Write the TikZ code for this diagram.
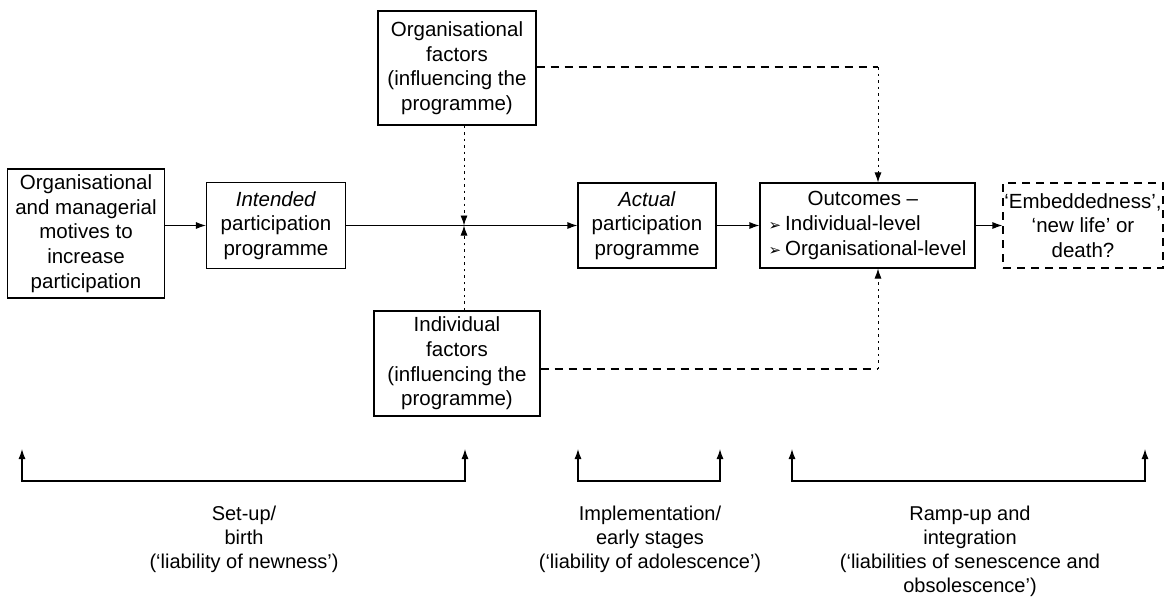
\documentclass[tikz,border=0pt]{standalone}
\usepackage{fontspec}
\setmainfont{Liberation Sans}
\newfontfamily\dingfont{DejaVu Sans}
\usetikzlibrary{arrows.meta}
\newcommand{\outbullet}{{\dingfont\fontsize{15}{15}\selectfont ➢}\hspace{4pt}}
\begin{document}
\begin{tikzpicture}[x=1pt, y=-1pt,
  box/.style={draw, line width=1.1pt, inner sep=0pt, align=center, font=\fontsize{20.5}{24.6}\selectfont},
  tip/.style={-{Latex[length=10pt,width=7pt]}},
  dots/.style={dash pattern=on 2.5pt off 4pt, line width=0.9pt},
  dashes/.style={dash pattern=on 8pt off 6pt, line width=1.1pt},
  lab/.style={align=center, font=\fontsize{20}{24}\selectfont}]
\useasboundingbox (0,0) rectangle (1166,598);
\node[box, minimum width=157, minimum height=129] (mot) at (86,233.5) {Organisational\\and managerial\\motives to\\increase\\participation};
\node[box, minimum width=139, minimum height=86] (int) at (276,225.5) {\textit{Intended}\\participation\\programme};
\node[box, minimum width=158, minimum height=114] (orgf) at (457,68) {Organisational\\factors\\(influencing the\\programme)};
\node[box, minimum width=166, minimum height=105] (indf) at (457,363.5) {Individual\\factors\\(influencing the\\programme)};
\node[box, minimum width=138, minimum height=85] (act) at (647,225.5) {\textit{Actual}\\participation\\programme};
\node[box, minimum width=215, minimum height=85, align=left] (out) at (867.5,225.5) {\hspace*{39pt}Outcomes –\\\outbullet Individual-level\\\outbullet Organisational-level};
\node[box, dashes, minimum width=160, minimum height=85] (emb) at (1083,225.5) {‘Embeddedness’,\\‘new life’ or\\death?};
\coordinate (j) at (464,225.5);
\coordinate (c0) at (878,67);
\coordinate (c1) at (878,369);
\draw[tip, line width=1.1pt](mot.east |- int) -- (int);
\draw[tip, line width=1.1pt](int) -- (act);
\draw[tip, line width=1.1pt](act) -- (out);
\draw[tip, line width=1.1pt](out) -- (emb);
\draw[dots, tip](orgf.south -| j) -- (j);
\draw[dots, tip](indf.north -| j) -- (j);
\draw[dashes](orgf.east |- c0) -- (c0);
\draw[dots, tip](c0) -- (out.north -| c0);
\draw[dashes](indf.east |- c1) -- (c1);
\draw[dots, tip](c1) -- (out.south -| c1);
\foreach \a/\b in {22/465, 578/720, 792/1145}
  \draw[{Latex[length=10pt,width=7pt]}-{Latex[length=10pt,width=7pt]}, line width=1.2pt] (\a,449) -- (\a,481) -- (\b,481) -- (\b,449);
\node[lab] (lab0) at (244,539) {Set-up/\\birth\\(‘liability of newness’)};
\node[lab] (lab1) at (650,539) {Implementation/\\early stages\\(‘liability of adolescence’)};
\node[lab] (lab2) at (970,551) {Ramp-up and\\integration\\(‘liabilities of senescence and\\obsolescence’)};
\end{tikzpicture}
\end{document}
